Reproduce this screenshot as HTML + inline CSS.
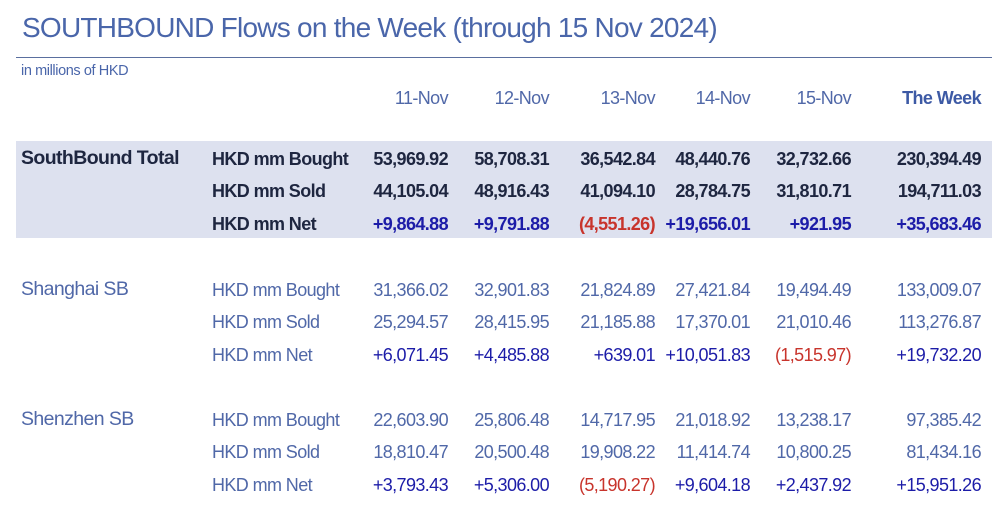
<!DOCTYPE html>
<html><head><meta charset="utf-8">
<style>
body{margin:0;width:1000px;height:510px;background:#fff;position:relative;overflow:hidden;font-family:"Liberation Sans",Arial,sans-serif}
.a{position:absolute;white-space:nowrap;line-height:1}
.n{font-size:18px;color:#5068a8;letter-spacing:-0.6px}
.b{font-weight:bold;color:#1e2640}
.pos{color:#1c1ca8}
.neg{color:#c8342c}
</style></head><body>
<div class="a" style="left:22px;top:14px;font-size:28px;color:#4a66aa;letter-spacing:-0.75px">SOUTHBOUND Flows on the Week (through 15 Nov 2024)</div>
<div class="a" style="left:16px;top:57px;width:976px;height:1px;background:#5a6f9f"></div>
<div class="a" style="left:21px;top:64px;font-size:14.5px;color:#4a66aa;letter-spacing:-0.4px">in millions of HKD</div>
<div class="a" style="left:16px;top:141px;width:976px;height:97px;background:#dde1ef"></div>
<div id="t"></div>
<script>
const cols=[448,549,655,750,851,981];
const heads=["11-Nov","12-Nov","13-Nov","14-Nov","15-Nov","The Week"];
const groups=[
 {name:"SouthBound Total",y:[150,182,215],bold:true,rows:[
  ["HKD mm Bought",["53,969.92","58,708.31","36,542.84","48,440.76","32,732.66","230,394.49"]],
  ["HKD mm Sold",["44,105.04","48,916.43","41,094.10","28,784.75","31,810.71","194,711.03"]],
  ["HKD mm Net",["+9,864.88","+9,791.88","(4,551.26)","+19,656.01","+921.95","+35,683.46"]]]},
 {name:"Shanghai SB",y:[281,313,346],bold:false,rows:[
  ["HKD mm Bought",["31,366.02","32,901.83","21,824.89","27,421.84","19,494.49","133,009.07"]],
  ["HKD mm Sold",["25,294.57","28,415.95","21,185.88","17,370.01","21,010.46","113,276.87"]],
  ["HKD mm Net",["+6,071.45","+4,485.88","+639.01","+10,051.83","(1,515.97)","+19,732.20"]]]},
 {name:"Shenzhen SB",y:[411,443,476],bold:false,rows:[
  ["HKD mm Bought",["22,603.90","25,806.48","14,717.95","21,018.92","13,238.17","97,385.42"]],
  ["HKD mm Sold",["18,810.47","20,500.48","19,908.22","11,414.74","10,800.25","81,434.16"]],
  ["HKD mm Net",["+3,793.43","+5,306.00","(5,190.27)","+9,604.18","+2,437.92","+15,951.26"]]]}
];
const t=document.getElementById('t');
function mk(txt,cls,left,top,right){
 const d=document.createElement('div');
 d.className='a '+cls;d.textContent=txt;d.style.top=top+'px';
 if(right!==undefined){d.style.right=(1000-right)+'px';}else d.style.left=left+'px';
 t.appendChild(d);return d;
}
heads.forEach((h,i)=>{
 const d=mk(h,'n',0,89,cols[i]);
 if(i==5){d.style.fontWeight='bold';d.style.color='#3d5aa5';}
 
 
});
groups.forEach((g,gi)=>{
 const gl=mk(g.name,'n'+(g.bold?' b':''),21,g.y[0]-1);
 gl.style.fontSize='19.5px';
 
 
 g.rows.forEach((r,ri)=>{
  const l=mk(r[0],'n'+(g.bold?' b':''),212,g.y[ri]);
  
  
  r[1].forEach((v,ci)=>{
   let c='n'+(g.bold?' b':'');
   if(ri==2)c+=v[0]=='('?' neg':' pos';
   const d=mk(v,c,0,g.y[ri],cols[ci]);
   
   
  });
 });
});
</script>
</body></html>
